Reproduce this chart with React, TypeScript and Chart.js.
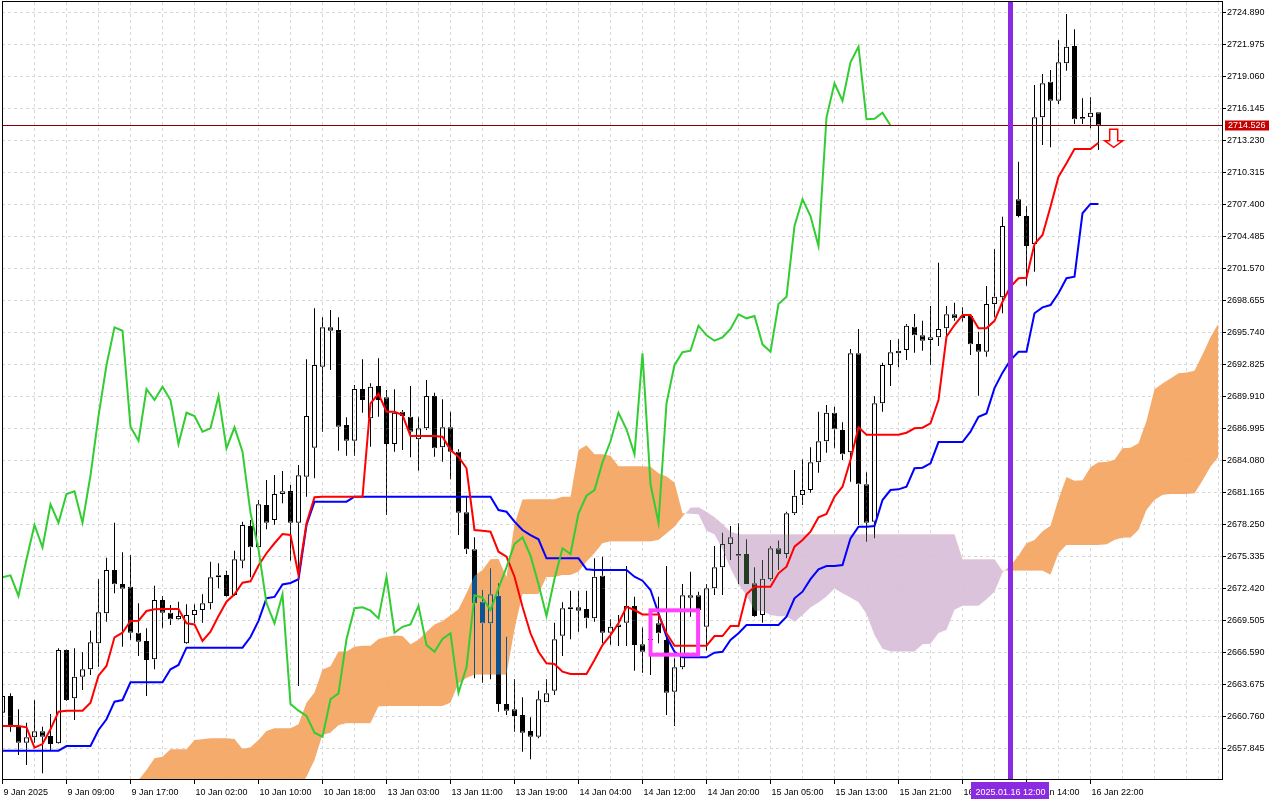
import { useEffect, useRef } from 'react';
import { Chart, registerables } from 'chart.js';

Chart.register(...registerables);

// XAUUSD H1, first bar = 9 Jan 2025 00:00
const opens = [
  2661.04, 2662.56, 2659.82, 2658.30, 2658.79, 2659.34, 2658.91, 2658.25, 2666.75, 2662.35,
  2664.32, 2664.99, 2667.36, 2670.09, 2674.03, 2672.76, 2672.51, 2668.32, 2667.57, 2665.90,
  2671.30, 2670.15, 2669.54, 2667.36, 2669.94, 2670.39, 2671.00, 2673.37, 2673.58, 2671.76,
  2674.88, 2678.04, 2676.10, 2679.96, 2678.59, 2680.96, 2681.23, 2678.34, 2682.53, 2685.17,
  2692.55, 2696.14, 2695.90, 2687.24, 2685.81, 2690.52, 2687.85, 2690.79, 2689.77, 2685.51,
  2688.45, 2687.99, 2685.94, 2686.94, 2689.88, 2685.21, 2687.03, 2684.81, 2679.29, 2675.92,
  2671.15, 2669.18, 2671.67, 2661.83, 2661.35, 2660.83, 2659.37, 2658.85, 2661.98, 2663.04,
  2668.05, 2670.45, 2670.64, 2670.48, 2669.63, 2673.51, 2668.32, 2668.84, 2669.23, 2670.76,
  2667.27, 2667.66, 2669.18, 2667.66, 2662.95, 2665.17, 2671.73, 2671.73, 2668.87, 2672.37,
  2674.28, 2676.40, 2675.49, 2675.49, 2672.82, 2669.94, 2673.19, 2676.01, 2675.49, 2679.20,
  2680.87, 2681.32, 2683.85, 2685.76, 2688.36, 2686.79, 2684.76, 2693.77, 2681.84, 2678.44,
  2689.22, 2692.71, 2693.77, 2694.07, 2696.20, 2695.41, 2694.99, 2695.23, 2696.05, 2697.33,
  2696.96, 2697.17, 2694.62, 2693.92, 2698.26, 2698.87, 2705.37, 2707.80, 2706.28, 2703.73,
  2715.27, 2718.51, 2716.78, 2720.19, 2721.77, 2715.30, 2715.27, 2715.73,
];
const highs = [
  2662.74, 2662.80, 2661.35, 2660.12, 2662.19, 2659.76, 2660.92, 2666.90, 2666.80, 2666.90,
  2666.57, 2668.51, 2673.22, 2675.15, 2678.34, 2675.65, 2675.40, 2671.00, 2668.72, 2672.60,
  2671.67, 2670.85, 2671.15, 2670.91, 2670.91, 2671.82, 2674.79, 2674.64, 2673.97, 2675.79,
  2678.44, 2678.59, 2680.41, 2682.23, 2682.69, 2683.05, 2681.78, 2683.59, 2693.23, 2697.87,
  2697.05, 2697.72, 2697.05, 2687.94, 2690.89, 2693.23, 2691.04, 2693.32, 2690.43, 2690.49,
  2688.61, 2690.79, 2687.99, 2691.34, 2690.18, 2689.58, 2688.45, 2685.03, 2680.71, 2677.01,
  2672.21, 2674.19, 2672.82, 2667.96, 2664.08, 2662.44, 2660.62, 2663.04, 2664.08, 2669.23,
  2671.09, 2672.15, 2672.15, 2672.15, 2675.10, 2675.25, 2669.54, 2669.94, 2674.40, 2671.60,
  2668.81, 2670.39, 2671.60, 2674.40, 2665.99, 2672.76, 2673.88, 2672.06, 2672.76, 2676.22,
  2677.43, 2678.04, 2678.29, 2676.83, 2674.28, 2674.95, 2676.22, 2676.71, 2679.34, 2683.14,
  2684.12, 2685.21, 2688.45, 2689.06, 2688.91, 2687.49, 2694.17, 2695.99, 2682.93, 2689.88,
  2692.92, 2694.98, 2695.08, 2696.44, 2697.35, 2696.74, 2698.08, 2702.03, 2698.08, 2698.38,
  2697.96, 2697.26, 2695.74, 2699.90, 2703.27, 2706.22, 2708.20, 2711.23, 2707.19, 2718.21,
  2719.22, 2719.58, 2722.31, 2724.68, 2723.29, 2717.00, 2717.09, 2715.73,
];
const lows = [
  2660.90, 2659.30, 2657.18, 2656.27, 2658.30, 2655.51, 2657.64, 2658.20, 2662.10, 2660.37,
  2663.10, 2664.47, 2665.23, 2669.32, 2671.91, 2667.05, 2667.66, 2666.20, 2662.56, 2664.99,
  2668.72, 2669.02, 2669.50, 2667.30, 2669.18, 2669.23, 2670.45, 2672.37, 2671.60, 2671.67,
  2674.19, 2673.37, 2676.00, 2677.74, 2678.13, 2680.11, 2674.88, 2663.47, 2680.71, 2682.39,
  2686.63, 2692.25, 2684.90, 2684.45, 2684.45, 2688.36, 2685.27, 2687.99, 2679.04, 2684.81,
  2684.96, 2684.30, 2683.08, 2686.79, 2684.36, 2683.90, 2682.30, 2677.22, 2675.49, 2664.17,
  2663.77, 2664.08, 2661.13, 2660.83, 2659.30, 2657.48, 2656.79, 2658.71, 2661.98, 2662.65,
  2666.20, 2667.72, 2668.41, 2668.72, 2669.32, 2667.36, 2667.20, 2667.11, 2667.11, 2664.86,
  2664.68, 2664.47, 2667.36, 2660.83, 2659.82, 2664.99, 2669.78, 2670.35, 2666.68, 2671.76,
  2671.76, 2674.95, 2672.76, 2672.76, 2669.78, 2669.23, 2673.06, 2674.03, 2675.10, 2679.04,
  2679.96, 2681.08, 2682.90, 2684.72, 2685.12, 2684.05, 2682.08, 2678.13, 2676.61, 2676.92,
  2688.45, 2690.79, 2692.50, 2693.16, 2693.83, 2694.01, 2692.71, 2694.44, 2695.35, 2696.74,
  2696.65, 2693.62, 2689.91, 2693.46, 2697.05, 2697.42, 2704.90, 2706.16, 2699.90, 2701.21,
  2712.75, 2712.54, 2716.48, 2719.52, 2714.66, 2714.66, 2714.27, 2712.29,
];
const closes = [
  2662.56, 2659.82, 2658.30, 2658.79, 2659.34, 2658.85, 2658.18, 2666.75, 2662.19, 2664.32,
  2664.99, 2667.45, 2670.18, 2674.03, 2672.73, 2672.33, 2668.32, 2667.50, 2665.84, 2671.30,
  2670.15, 2669.54, 2669.85, 2669.94, 2670.39, 2671.00, 2673.37, 2673.55, 2671.67, 2675.01,
  2678.13, 2676.10, 2680.02, 2678.34, 2680.96, 2681.20, 2678.34, 2682.66, 2688.06, 2692.71,
  2696.14, 2695.83, 2687.09, 2685.81, 2690.52, 2689.52, 2690.73, 2689.52, 2685.51, 2688.36,
  2688.06, 2686.63, 2686.94, 2689.88, 2685.12, 2687.03, 2684.81, 2679.25, 2675.92, 2671.00,
  2669.18, 2671.82, 2661.83, 2661.22, 2660.74, 2659.21, 2658.85, 2662.26, 2662.80, 2667.72,
  2670.55, 2670.64, 2670.33, 2669.63, 2673.42, 2668.32, 2668.86, 2669.08, 2670.76, 2667.20,
  2666.59, 2667.75, 2668.27, 2662.86, 2665.17, 2671.73, 2671.51, 2670.39, 2672.37, 2674.28,
  2676.40, 2677.01, 2675.34, 2672.76, 2669.84, 2673.24, 2676.01, 2675.49, 2679.20, 2680.80,
  2681.32, 2683.85, 2685.76, 2688.36, 2686.85, 2684.57, 2693.77, 2681.84, 2678.34, 2689.22,
  2692.71, 2693.87, 2694.01, 2696.29, 2695.41, 2694.92, 2695.23, 2695.99, 2697.33, 2696.96,
  2697.17, 2694.59, 2693.92, 2698.26, 2698.93, 2705.37, 2707.80, 2706.28, 2703.55, 2715.27,
  2718.37, 2716.78, 2720.28, 2721.70, 2715.09, 2715.14, 2715.69, 2714.53,
];

// Ichimoku lines, one value per bar
const tenkan = [
  2659.82, 2659.82, 2659.82, 2659.70, 2657.85, 2658.18, 2659.52, 2661.13, 2661.22, 2661.22,
  2661.22, 2661.95, 2664.41, 2665.29, 2667.90, 2668.32, 2669.39, 2669.42, 2670.30, 2670.45,
  2670.48, 2670.48, 2670.48, 2669.18, 2669.08, 2667.57, 2668.41, 2669.85, 2671.15, 2671.82,
  2672.88, 2673.00, 2674.45, 2675.56, 2676.47, 2677.31, 2677.22, 2673.58, 2678.29, 2680.66,
  2680.71, 2680.71, 2680.71, 2680.71, 2680.71, 2680.71, 2689.22, 2690.07, 2688.45, 2688.45,
  2688.15, 2686.24, 2686.24, 2686.24, 2686.24, 2686.18, 2684.96, 2684.36, 2683.30, 2677.68,
  2677.61, 2677.52, 2675.70, 2675.25, 2673.42, 2670.69, 2668.27, 2666.59, 2665.54, 2665.47,
  2664.77, 2664.56, 2664.56, 2664.56, 2665.84, 2667.20, 2668.11, 2669.18, 2670.69, 2670.39,
  2669.99, 2669.99, 2669.99, 2668.27, 2667.14, 2667.14, 2667.14, 2667.14, 2667.14, 2668.02,
  2668.02, 2668.93, 2668.93, 2671.82, 2672.51, 2672.51, 2672.51, 2673.73, 2674.34, 2676.16,
  2676.77, 2677.52, 2678.84, 2679.14, 2680.71, 2681.62, 2684.05, 2687.03, 2686.36, 2686.36,
  2686.36, 2686.36, 2686.36, 2686.54, 2686.94, 2687.00, 2687.40, 2689.52, 2695.29, 2696.35,
  2697.26, 2697.26, 2696.05, 2696.05, 2696.73, 2698.47, 2699.84, 2700.61, 2700.66, 2703.73,
  2704.55, 2707.13, 2709.86, 2711.08, 2712.38, 2712.38, 2712.38, 2712.96,
];
const kijun = [
  2657.58, 2657.58, 2657.58, 2657.58, 2657.58, 2657.58, 2657.58, 2657.58, 2658.00, 2658.00,
  2658.00, 2658.00, 2659.46, 2660.44, 2662.04, 2662.19, 2663.80, 2663.80, 2663.80, 2663.80,
  2663.80, 2664.99, 2665.38, 2666.96, 2666.96, 2666.96, 2666.96, 2666.96, 2666.96, 2666.96,
  2666.96, 2667.93, 2669.40, 2671.46, 2671.58, 2672.72, 2672.85, 2673.19, 2678.13, 2680.26,
  2680.26, 2680.26, 2680.26, 2680.26, 2680.71, 2680.71, 2680.71, 2680.71, 2680.71, 2680.71,
  2680.71, 2680.71, 2680.71, 2680.71, 2680.71, 2680.71, 2680.71, 2680.71, 2680.71, 2680.71,
  2680.71, 2680.71, 2679.50, 2679.34, 2678.44, 2677.68, 2677.22, 2676.83, 2675.10, 2675.10,
  2675.10, 2675.10, 2675.10, 2674.10, 2674.03, 2674.03, 2674.03, 2674.03, 2674.03, 2673.42,
  2673.06, 2672.21, 2670.09, 2667.96, 2666.59, 2666.08, 2666.08, 2666.08, 2666.08, 2666.50,
  2666.59, 2667.66, 2668.27, 2669.02, 2669.02, 2669.02, 2669.02, 2669.02, 2669.78, 2671.46,
  2672.06, 2673.20, 2674.10, 2674.40, 2674.40, 2674.49, 2676.92, 2677.98, 2677.98, 2678.04,
  2680.41, 2681.32, 2681.38, 2681.62, 2683.30, 2683.35, 2683.75, 2685.69, 2685.69, 2685.69,
  2685.69, 2686.63, 2687.99, 2688.30, 2690.60, 2692.01, 2693.16, 2693.92, 2693.92, 2697.42,
  2697.96, 2698.17, 2699.24, 2700.61, 2700.75, 2706.53, 2707.38, 2707.38,
];
// cloud (already shifted forward), first value sits on bar 17
const cloudStart = 17;
const spanA = [
  2654.90, 2655.81, 2656.88, 2657.03, 2657.70, 2657.70, 2657.70, 2658.55, 2658.61, 2658.70,
  2658.70, 2658.70, 2658.64, 2657.72, 2657.88, 2658.55, 2659.36, 2659.61, 2659.61, 2659.61,
  2659.98, 2661.94, 2662.87, 2664.97, 2665.26, 2666.60, 2666.61, 2667.05, 2667.13, 2667.14,
  2667.74, 2667.93, 2668.07, 2668.02, 2667.27, 2667.69, 2668.41, 2669.06, 2669.39, 2669.92,
  2670.47, 2671.93, 2673.51, 2674.03, 2675.02, 2675.04, 2673.39, 2678.21, 2680.46, 2680.49,
  2680.49, 2680.49, 2680.49, 2680.71, 2680.71, 2684.97, 2685.39, 2684.58, 2684.58, 2684.43,
  2683.48, 2683.48, 2683.48, 2683.48, 2683.45, 2682.84, 2682.54, 2682.01, 2679.20, 2679.16,
  2679.12, 2677.60, 2677.30, 2675.93, 2674.19, 2672.75, 2671.71, 2670.32, 2670.29, 2669.94,
  2669.83, 2669.83, 2669.33, 2669.94, 2670.62, 2671.07, 2671.61, 2672.36, 2671.91, 2671.53,
  2671.10, 2670.04, 2668.12, 2666.87, 2666.61, 2666.61, 2666.61, 2666.61, 2667.26, 2667.31,
  2668.30, 2668.60, 2670.42, 2670.77, 2670.77, 2670.77, 2671.38, 2672.06, 2673.81, 2674.42,
  2675.36, 2676.47, 2676.77, 2677.56, 2678.06, 2680.49, 2682.51, 2682.17, 2682.20, 2683.39,
  2683.84, 2683.87, 2684.08, 2685.12, 2685.18, 2685.58, 2687.61, 2690.49, 2691.02, 2691.48,
  2691.95, 2692.02, 2692.18, 2693.67, 2695.24, 2696.50,
];
const spanB = [
  2654.00, 2654.00, 2654.00, 2654.00, 2654.00, 2654.00, 2654.00, 2654.00, 2654.00, 2654.00,
  2654.00, 2654.00, 2654.00, 2654.00, 2654.00, 2654.00, 2654.00, 2654.00, 2654.00, 2654.00,
  2654.00, 2655.20, 2656.70, 2659.00, 2659.20, 2659.90, 2660.07, 2660.07, 2660.07, 2660.07,
  2661.60, 2661.65, 2661.65, 2661.65, 2661.65, 2661.65, 2661.65, 2661.65, 2661.65, 2661.95,
  2663.70, 2664.20, 2664.50, 2664.50, 2664.50, 2664.50, 2664.50, 2668.60, 2671.85, 2671.85,
  2671.85, 2673.40, 2673.40, 2673.58, 2673.58, 2673.88, 2674.79, 2675.56, 2676.47, 2676.62,
  2676.62, 2676.62, 2676.62, 2676.62, 2676.62, 2676.77, 2677.37, 2677.98, 2678.89, 2679.70,
  2679.74, 2679.34, 2678.83, 2678.22, 2677.52, 2677.29, 2677.29, 2677.29, 2677.29, 2677.29,
  2677.29, 2677.29, 2677.29, 2677.29, 2677.29, 2677.29, 2677.29, 2677.29, 2677.29, 2677.29,
  2677.29, 2677.29, 2677.29, 2677.29, 2677.29, 2677.29, 2677.29, 2677.29, 2677.29, 2677.29,
  2677.29, 2677.29, 2677.29, 2675.01, 2675.01, 2675.01, 2675.01, 2675.01, 2673.97, 2673.97,
  2673.97, 2673.97, 2673.97, 2673.97, 2673.60, 2675.56, 2676.31, 2676.31, 2676.31, 2676.31,
  2676.31, 2676.35, 2676.77, 2676.98, 2676.98, 2677.68, 2679.50, 2680.41, 2680.87, 2680.96,
  2680.96, 2680.96, 2681.00, 2682.17, 2683.45, 2684.36,
];
const chikouShift = 26;

const priceTicks = [
  2657.845, 2660.760, 2663.675, 2666.590, 2669.505, 2672.420, 2675.335, 2678.250,
  2681.165, 2684.080, 2686.995, 2689.910, 2692.825, 2695.740, 2698.655, 2701.570,
  2704.485, 2707.400, 2710.315, 2713.230, 2716.145, 2719.060, 2721.975, 2724.890,
];
const labelStep = 8;
const timeLabels = [
  '9 Jan 2025', '9 Jan 09:00', '9 Jan 17:00', '10 Jan 02:00', '10 Jan 10:00', '10 Jan 18:00',
  '13 Jan 03:00', '13 Jan 11:00', '13 Jan 19:00', '14 Jan 04:00', '14 Jan 12:00', '14 Jan 20:00',
  '15 Jan 05:00', '15 Jan 13:00', '15 Jan 21:00', '16 Jan 06:00', '16 Jan 14:00', '16 Jan 22:00',
];
const bidPrice = 2714.526;
const markerBar = 126;
const markerLabel = '2025.01.16 12:00';
const boxBars = [81, 86.95];
const boxPrices = [2670.36, 2666.32];
const arrowBar = 138.9;
const arrowPrice = 2714.18;

const SANDY = 'rgba(244,164,96,0.92)';
const THISTLE = 'rgba(216,191,216,0.92)';
const FONT = '9px "Liberation Sans", Arial, sans-serif';

// canvas must be opaque white for the 'difference' trick below
const backgroundPlugin = {
  id: 'whiteBackground',
  beforeDraw(chart: any) {
    const { ctx, width, height } = chart;
    ctx.save();
    ctx.globalCompositeOperation = 'source-over';
    ctx.fillStyle = '#ffffff';
    ctx.fillRect(0, 0, width, height);
    ctx.restore();
  },
};

// candles are drawn white with 'difference' so they turn black on white and invert over the cloud
const invertPlugin = {
  id: 'invertCandles',
  beforeDatasetDraw(chart: any, args: any) {
    if (chart.data.datasets[args.index].type === 'bar') chart.ctx.globalCompositeOperation = 'difference';
  },
  afterDatasetDraw(chart: any) {
    chart.ctx.globalCompositeOperation = 'source-over';
  },
};

const gridPlugin = {
  id: 'mtGrid',
  beforeDatasetsDraw(chart: any) {
    const { ctx, chartArea: a, scales } = chart;
    const x = scales.x;
    const y = scales.y;
    ctx.save();
    ctx.strokeStyle = '#d8d8d8';
    ctx.lineWidth = 1;
    ctx.setLineDash([3, 3]);
    ctx.beginPath();
    for (const p of priceTicks) {
      const py = Math.round(y.getPixelForValue(p)) + 0.5;
      ctx.moveTo(a.left, py);
      ctx.lineTo(a.right, py);
    }
    for (let b = 4; b <= x.max; b += 4) {
      const px = Math.floor(x.getPixelForValue(b)) + 0.5;
      ctx.moveTo(px, a.top);
      ctx.lineTo(px, a.bottom);
    }
    ctx.stroke();
    ctx.restore();
  },
};

const overlayPlugin = {
  id: 'mtOverlay',
  afterDraw(chart: any) {
    const { ctx, chartArea: a, scales } = chart;
    const x = scales.x;
    const y = scales.y;
    ctx.save();

    // bid line
    const by = Math.round(y.getPixelForValue(bidPrice)) + 0.5;
    ctx.strokeStyle = '#8b0000';
    ctx.lineWidth = 1;
    ctx.beginPath();
    ctx.moveTo(a.left, by);
    ctx.lineTo(a.right, by);
    ctx.stroke();

    // magenta selection box
    const bx1 = x.getPixelForValue(boxBars[0]);
    const bx2 = x.getPixelForValue(boxBars[1]);
    const by1 = y.getPixelForValue(boxPrices[0]);
    const by2 = y.getPixelForValue(boxPrices[1]);
    ctx.strokeStyle = '#ff40ff';
    ctx.lineWidth = 4;
    ctx.strokeRect(bx1, by1, bx2 - bx1, by2 - by1);

    // vertical marker
    const mx = x.getPixelForValue(markerBar);
    ctx.fillStyle = '#8a2be2';
    ctx.fillRect(mx - 2.5, a.top - 1, 5, a.bottom - a.top + 2);

    // sell arrow
    const ax = x.getPixelForValue(arrowBar);
    const at = y.getPixelForValue(arrowPrice);
    ctx.beginPath();
    ctx.moveTo(ax - 4, at);
    ctx.lineTo(ax + 4, at);
    ctx.lineTo(ax + 4, at + 11.5);
    ctx.lineTo(ax + 9, at + 11.5);
    ctx.lineTo(ax, at + 18);
    ctx.lineTo(ax - 9, at + 11.5);
    ctx.lineTo(ax - 4, at + 11.5);
    ctx.closePath();
    ctx.fillStyle = '#ffffff';
    ctx.fill();
    ctx.strokeStyle = '#ff0000';
    ctx.lineWidth = 1.5;
    ctx.stroke();

    // frame
    ctx.strokeStyle = '#000000';
    ctx.lineWidth = 1;
    ctx.strokeRect(a.left + 0.5, a.top - 0.5, a.right - a.left, a.bottom - a.top + 1);

    // price axis
    ctx.font = FONT;
    ctx.fillStyle = '#000000';
    ctx.textAlign = 'left';
    ctx.textBaseline = 'middle';
    ctx.beginPath();
    for (const p of priceTicks) {
      const py = Math.round(y.getPixelForValue(p)) + 0.5;
      ctx.moveTo(a.right, py);
      ctx.lineTo(a.right + 4, py);
      ctx.fillText(p.toFixed(3), a.right + 5, py);
    }
    ctx.stroke();

    ctx.fillStyle = '#c80000';
    ctx.fillRect(a.right + 3, by - 5, 44, 10);
    ctx.fillStyle = '#ffffff';
    ctx.fillText(bidPrice.toFixed(3), a.right + 6, by);

    // time axis
    ctx.fillStyle = '#000000';
    ctx.textBaseline = 'alphabetic';
    ctx.beginPath();
    timeLabels.forEach((t, k) => {
      const px = Math.floor(x.getPixelForValue(k * labelStep)) + 0.5;
      ctx.moveTo(px, a.bottom);
      ctx.lineTo(px, a.bottom + 5);
      ctx.fillText(t, px + 1, 795);
    });
    ctx.stroke();

    const w = ctx.measureText(markerLabel).width + 8;
    ctx.fillStyle = '#8a2be2';
    ctx.fillRect(Math.round(mx - w / 2), 782, Math.round(w), 17);
    ctx.fillStyle = '#ffffff';
    ctx.textAlign = 'center';
    ctx.fillText(markerLabel, mx, 795);

    ctx.restore();
  },
};

function App() {
  const chartRef = useRef<HTMLCanvasElement>(null);
  const chartInstance = useRef<Chart | null>(null);

  useEffect(() => {
    if (!chartRef.current) return;
    const ctx = chartRef.current.getContext('2d');
    if (!ctx) return;
    if (chartInstance.current) chartInstance.current.destroy();

    const idx = closes.map((_, i) => i);
    const bull = idx.map((i) => closes[i] >= opens[i]);
    const bodies = idx.map((i) => ({ x: i, y: [opens[i], closes[i]] }));
    const upperWicks = idx.map((i) => ({ x: i, y: [Math.max(opens[i], closes[i]), highs[i]] }));
    const lowerWicks = idx.map((i) => ({ x: i, y: [lows[i], Math.min(opens[i], closes[i])] }));
    const chikou = closes.slice(chikouShift).map((v, i) => ({ x: i, y: v }));

    const lineBase = { pointRadius: 0, tension: 0, fill: false, borderWidth: 2 };
    const wickBase = {
      backgroundColor: '#ffffff', borderWidth: 0, barThickness: 1,
      grouped: false, inflateAmount: 0, order: 10,
    };

    chartInstance.current = new Chart(ctx, {
      type: 'line',
      data: {
        datasets: [
          {
            type: 'line', label: 'Senkou Span A',
            data: spanA.map((v, k) => ({ x: cloudStart + k, y: v })),
            borderColor: 'rgba(0,0,0,0)', borderWidth: 1, pointRadius: 0, tension: 0,
            fill: { target: 1, above: SANDY, below: THISTLE }, order: 20,
          },
          {
            type: 'line', label: 'Senkou Span B',
            data: spanB.map((v, k) => ({ x: cloudStart + k, y: v })),
            borderColor: 'rgba(0,0,0,0)', borderWidth: 1, pointRadius: 0, tension: 0,
            fill: false, order: 21,
          },
          { type: 'bar', label: 'upper wick', data: upperWicks, ...wickBase },
          { type: 'bar', label: 'lower wick', data: lowerWicks, ...wickBase },
          {
            type: 'bar', label: 'body', data: bodies,
            backgroundColor: idx.map((i) => (bull[i] ? 'rgba(0,0,0,0)' : '#ffffff')),
            borderColor: '#ffffff', borderWidth: 1, borderSkipped: false,
            barThickness: 5, grouped: false, inflateAmount: 0, order: 9,
          },
          { type: 'line', label: 'Kijun-sen', data: kijun.map((v, i) => ({ x: i, y: v })), borderColor: '#0000ff', order: 3, ...lineBase },
          { type: 'line', label: 'Tenkan-sen', data: tenkan.map((v, i) => ({ x: i, y: v })), borderColor: '#ff0000', order: 2, ...lineBase },
          { type: 'line', label: 'Chikou Span', data: chikou, borderColor: '#32cd32', order: 1, ...lineBase },
        ] as any,
      },
      options: {
        responsive: false,
        animation: false,
        events: [],
        layout: { padding: { left: 2, top: 2, right: 58, bottom: 21 } },
        plugins: {
          legend: { display: false },
          tooltip: { enabled: false },
        },
        scales: {
          x: { type: 'linear', display: false, min: -0.0625, max: 152.4375, offset: false, bounds: 'data' },
          y: { type: 'linear', display: false, min: 2654.996, max: 2725.774, beginAtZero: false, bounds: 'data' },
        },
      } as any,
      plugins: [backgroundPlugin, gridPlugin, invertPlugin, overlayPlugin],
    });

    return () => {
      if (chartInstance.current) {
        chartInstance.current.destroy();
        chartInstance.current = null;
      }
    };
  }, []);

  return (
    <div style={{ position: 'fixed', left: 0, top: 0, width: 1280, height: 800, background: '#ffffff' }}>
      <canvas ref={chartRef} width={1280} height={800} style={{ display: 'block' }}></canvas>
    </div>
  );
}

export default App;
